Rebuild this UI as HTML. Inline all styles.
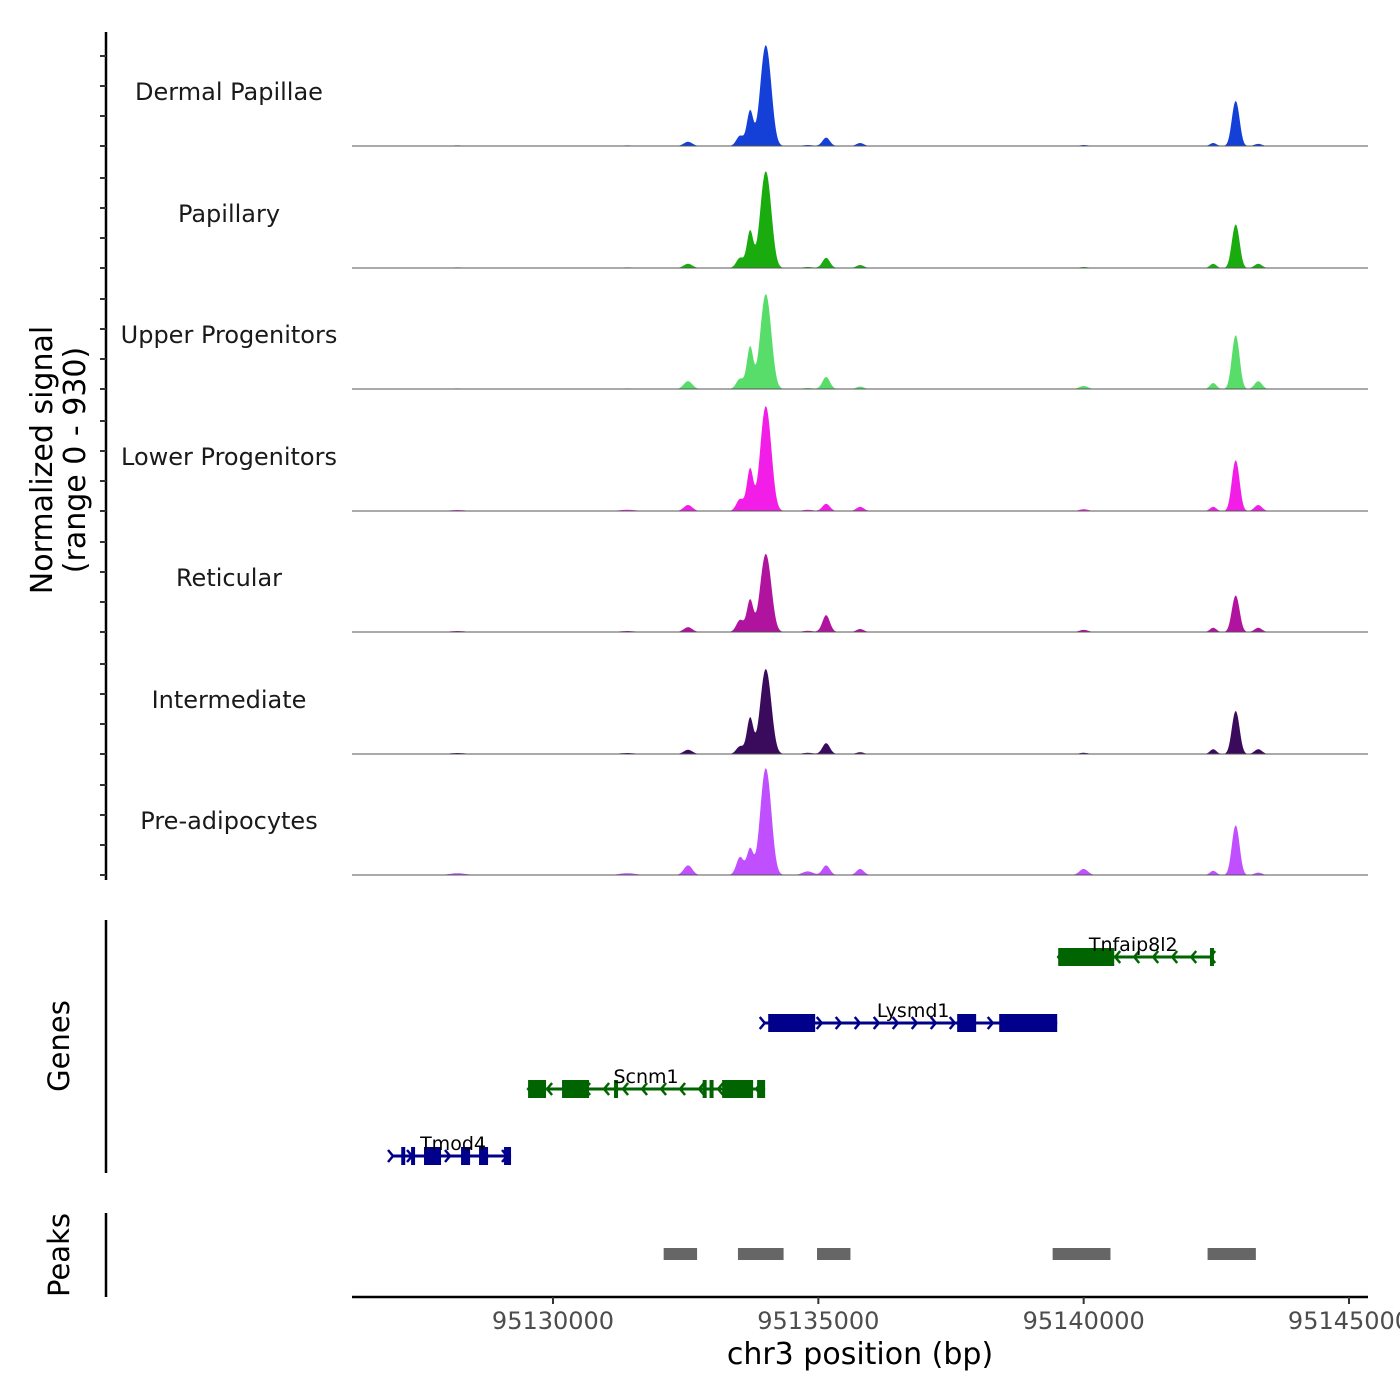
<!DOCTYPE html>
<html><head><meta charset="utf-8"><style>
html,body{margin:0;padding:0;background:#fff}
svg{display:block;font-family:"DejaVu Sans","Liberation Sans",sans-serif}
</style></head><body>
<svg id="chart" width="1400" height="1400" viewBox="0 0 1400 1400" xmlns="http://www.w3.org/2000/svg">
<g id="tracks"></g>
<g id="genes"></g>
<g id="peaks"></g>
<g id="axes"></g>
<text transform="translate(52,460) rotate(-90)" text-anchor="middle" font-size="30" fill="#000">Normalized signal</text>
<text transform="translate(85,460) rotate(-90)" text-anchor="middle" font-size="30" fill="#000">(range 0 - 930)</text>
<text transform="translate(69,1046) rotate(-90)" text-anchor="middle" font-size="29" fill="#000">Genes</text>
<text transform="translate(69,1255) rotate(-90)" text-anchor="middle" font-size="29" fill="#000">Peaks</text>
<text x="860" y="1364" text-anchor="middle" font-size="30" fill="#000">chr3 position (bp)</text>
</svg>
<script>
const NS="http://www.w3.org/2000/svg";
const trackNames=["Dermal Papillae","Papillary","Upper Progenitors","Lower Progenitors","Reticular","Intermediate","Pre-adipocytes"];
const trackColors=["#1440d8","#1aab0e","#58dd6a","#f21ee8","#b0149e","#3a0a5c","#c050ff"];
const peakCenters=[95132545,95133526,95133714,95133960,95134060,95135147,95135788,95140000,95142441,95142830,95142900,95143290,95128200,95131400,95134800];
const peakValues=[
 [35,85,291,498,498,70,25,8,25,222,222,18,5,5,8],
 [35,85,307,478,478,85,25,8,35,215,215,35,5,5,8],
 [65,85,349,469,469,100,20,25,50,265,265,65,5,5,8],
 [50,100,349,518,518,60,35,15,35,250,250,50,8,10,10],
 [40,100,266,386,386,140,25,18,35,180,180,35,8,8,10],
 [35,65,299,420,420,90,15,10,40,212,212,40,8,8,10],
 [80,150,216,528,528,80,50,50,35,245,245,20,15,15,30]
];
const peakWidths=[80,70,60,85,85,70,70,80,60,60,60,70,150,150,100];
const xTicks=[95130000,95135000,95140000,95145000];
const peakRegions=[[95132085,95132715],[95133485,95134345],[95134975,95135605],[95139415,95140505],[95142335,95143245]];
const genes=[
 {name:"Tnfaip8l2",strand:-1,row:0,start:95139520,end:95142404,exons:[[95139520,95140576],[95142380,95142404]],label:95140934},
 {name:"Lysmd1",strand:1,row:1,start:95133990,end:95139501,exons:[[95134055,95134940],[95137616,95137974],[95138408,95139501]],label:95136787},
 {name:"Scnm1",strand:-1,row:2,start:95129530,end:95133997,exons:[[95129530,95129869],[95130170,95130679],[95131150,95131200],[95132820,95132880],[95132950,95133010],[95133187,95133771],[95133846,95133997]],label:95131754},
 {name:"Tmod4",strand:1,row:3,start:95126985,end:95129209,exons:[[95127140,95127180],[95127325,95127365],[95127569,95127890],[95128267,95128437],[95128606,95128776],[95129077,95129209]],label:95128116}
];
const X0=352,X1=1368,BP0=95126212,BP1=95145358;
const x=bp=>X0+(bp-BP0)/(BP1-BP0)*(X1-X0);
const trackBase=[146,268,389,511,632,754,875];
const yscale=v=>v/930*112;
function mk(tag,attrs,parent){const e=document.createElementNS(NS,tag);for(const k in attrs)e.setAttribute(k,attrs[k]);parent.appendChild(e);return e;}
const tg=document.getElementById('tracks');
trackNames.forEach((nm,i)=>{
  const g=mk('g',{},tg);
  
  
  const b=trackBase[i];
  let d=`M${X0},${b}`;
  for(let px=X0;px<=X1;px+=1){
    const bp=BP0+(px-X0)/(X1-X0)*(BP1-BP0);
    let v=0;
    peakCenters.forEach((c,j)=>{const s=peakWidths[j];v+=peakValues[i][j]*Math.exp(-0.5*((bp-c)/s)**2);});
    d+=`L${px},${(b-yscale(v)).toFixed(2)}`;
  }
  d+=`L${X1},${b}Z`;
  const p=mk('path',{d:d,fill:trackColors[i],stroke:'none'},g);
  
  
  const l=mk('line',{x1:X0,x2:X1,y1:b,y2:b,stroke:'#555','stroke-width':1},g);
  
  
  const t=mk('text',{x:229,y:b-46,'text-anchor':'middle','font-size':24,fill:'#1a1a1a'},g);
  t.textContent=nm;
  
  
});
const ax=document.getElementById('axes');
mk('line',{x1:106,x2:106,y1:32,y2:880,stroke:'#000','stroke-width':2.5},ax);
trackBase.forEach(b=>{for(let k=0;k<4;k++){const yy=b-k*30;if(yy<32)continue;mk('line',{x1:100,x2:106,y1:yy,y2:yy,stroke:'#333','stroke-width':2},ax);}});
mk('line',{x1:106,x2:106,y1:920,y2:1173,stroke:'#000','stroke-width':2.5},ax);
mk('line',{x1:106,x2:106,y1:1213,y2:1297,stroke:'#000','stroke-width':2.5},ax);
mk('line',{x1:X0,x2:X1,y1:1297,y2:1297,stroke:'#000','stroke-width':2.5},ax);
xTicks.forEach(v=>{
  const tx=x(v);
  mk('line',{x1:tx,x2:tx,y1:1297,y2:1304,stroke:'#333','stroke-width':2},ax);
  const t=mk('text',{x:tx,y:1329,'text-anchor':'middle','font-size':24,fill:'#4d4d4d'},ax);
  t.textContent=String(v);
  
  
});
const gg=document.getElementById('genes');
const rowY=[957,1023,1089,1156];
const gcol={1:'#00008b','-1':'#006400'};
genes.forEach(ge=>{
  const g=mk('g',{},gg);
  
  
  const y=rowY[ge.row],c=gcol[ge.strand];
  mk('line',{x1:x(ge.start),x2:x(ge.end),y1:y,y2:y,stroke:c,'stroke-width':3},g);
  const n=Math.floor((x(ge.end)-x(ge.start))/19);
  for(let k=0;k<=n;k++){
    const ax_=x(ge.start)+k*19;
    const dx=ge.strand>0?-5:5;
    mk('path',{d:`M${ax_+dx},${y-6}L${ax_},${y}L${ax_+dx},${y+6}`,fill:'none',stroke:c,'stroke-width':2.5},g);
  }
  ge.exons.forEach(e=>{const w=Math.max(4,x(e[1])-x(e[0]));mk('rect',{x:x(e[0]),y:y-9,width:w,height:18,fill:c},g);});
  const t=mk('text',{x:x(ge.label),y:y-6,'text-anchor':'middle','font-size':19,fill:'#000'},g);
  t.textContent=ge.name;
});
const pg=document.getElementById('peaks');
peakRegions.forEach(r=>{
  const rc=mk('rect',{x:x(r[0]),y:1248,width:x(r[1])-x(r[0]),height:12,fill:'#666'},pg);
  
  
});
</script>
</body></html>
